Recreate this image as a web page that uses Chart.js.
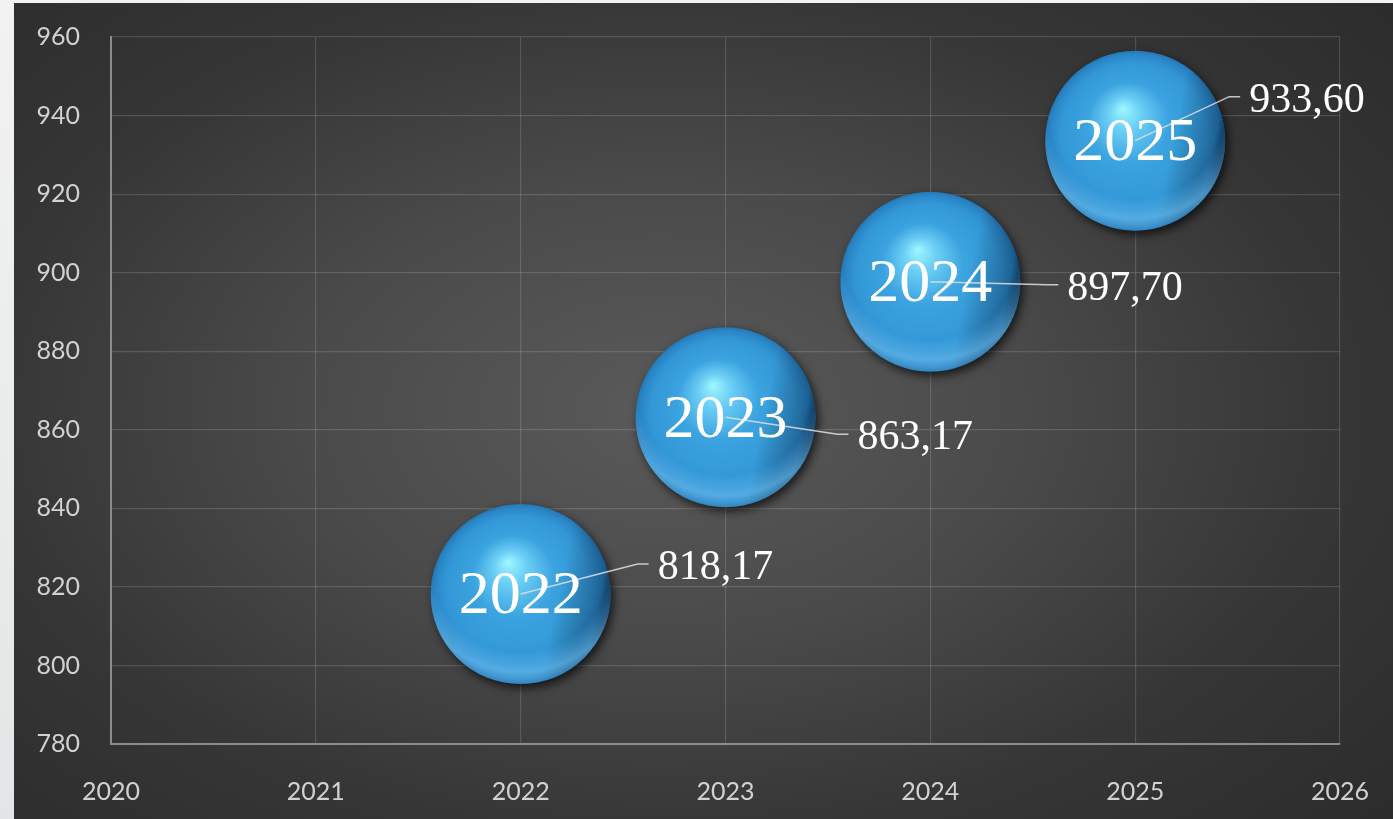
<!DOCTYPE html>
<html lang="en">
	<head>
		<meta charset="UTF-8" />
		<title>Bubbles 2022-2025</title>
		<script src="https://cdn.jsdelivr.net/npm/chart.js@4.4.3/dist/chart.umd.min.js"></script>
		<style>
			html,
			body {
				margin: 0;
				padding: 0;
				width: 1393px;
				height: 819px;
				overflow: hidden;
				background: linear-gradient(180deg, #f2f2f2, #e3e6e6);
			}
			.panel {
				position: absolute;
				left: 14px;
				top: 3px;
				width: 1379px;
				height: 816px;
				background: radial-gradient(
					ellipse 75% 80% at 47% 50%,
					#5a5a5a 0%,
					#4a4a4a 35%,
					#363636 65%,
					#2a2a2a 100%
				);
			}
			canvas {
				display: block;
			}
		</style>
	</head>
	<body>
		<div class="panel">
			<canvas id="bubbleChart" width="1379" height="816"></canvas>
		</div>

		<script>
			// data
			const years = [2022, 2023, 2024, 2025];
			const values = [818.17, 863.17, 897.7, 933.6];
			const valueLabels = ["818,17", "863,17", "897,70", "933,60"];
			const xMin = 2020;
			const xMax = 2026;
			const yMin = 780;
			const yMax = 960;
			const yStep = 20;

			const R = 90; // bubble radius, px
			// where each value label sits, relative to the bubble centre
			const labelOffsets = [
				{ dx: 137, dy: -28 },
				{ dx: 132, dy: 19 },
				{ dx: 137, dy: 5 },
				{ dx: 114, dy: -42 },
			];

			function sphereFill(context) {
				const fallback = "#3399da";
				if (context.type !== "data" || !context.raw) return fallback;
				const chart = context.chart;
				const p = context.raw;
				const cx = chart.scales.x.getPixelForValue(p.x);
				const cy = chart.scales.y.getPixelForValue(p.y);
				if (!isFinite(cx) || !isFinite(cy)) return fallback;
				const g = chart.ctx.createRadialGradient(
					cx - 0.14 * R, cy - 0.36 * R, 0,
					cx, cy, R
				);
				g.addColorStop(0, "#9ff8ff");
				g.addColorStop(0.18, "#6ccff5");
				g.addColorStop(0.45, "#3ba3e0");
				g.addColorStop(0.8, "#3297d6");
				g.addColorStop(0.94, "#2a85c6");
				g.addColorStop(1, "#2378b5");
				return g;
			}

			const sphereShadow = {
				id: "sphereShadow",
				beforeDatasetsDraw(chart) {
					const ctx = chart.ctx;
					ctx.save();
					ctx.shadowColor = "rgba(0,0,0,0.7)";
					ctx.shadowBlur = 10;
					ctx.shadowOffsetX = 3;
					ctx.shadowOffsetY = 4;
				},
				afterDatasetsDraw(chart) {
					chart.ctx.restore();
				},
			};

			const sphereLabels = {
				id: "sphereLabels",
				afterDatasetsDraw(chart) {
					const ctx = chart.ctx;
					const meta = chart.getDatasetMeta(0);
					meta.data.forEach((el, i) => {
						const cx = el.x;
						const cy = el.y;

						// shading on top of the base fill
						ctx.save();
						ctx.beginPath();
						ctx.arc(cx, cy, R, 0, Math.PI * 2);
						ctx.clip();
						const side = ctx.createLinearGradient(cx - R, cy - R * 0.2, cx + R, cy + R * 0.2);
						side.addColorStop(0, "rgba(0,0,0,0)");
						side.addColorStop(0.7, "rgba(0,0,0,0)");
						side.addColorStop(0.92, "rgba(6,30,60,0.35)");
						side.addColorStop(1, "rgba(4,20,40,0.8)");
						ctx.fillStyle = side;
						ctx.fillRect(cx - R, cy - R, R * 2, R * 2);
						const rim = ctx.createRadialGradient(cx, cy - 0.35 * R, 0, cx, cy - 0.35 * R, 1.35 * R);
						rim.addColorStop(0, "rgba(110,200,255,0)");
						rim.addColorStop(0.74, "rgba(110,200,255,0)");
						rim.addColorStop(0.9, "rgba(125,205,250,0.5)");
						rim.addColorStop(1, "rgba(125,205,250,0.15)");
						ctx.fillStyle = rim;
						ctx.fillRect(cx - R, cy - R, R * 2, R * 2);
						ctx.restore();

						// leader line
						const off = labelOffsets[i];
						const tx = cx + off.dx;
						const ty = cy + off.dy;
						ctx.save();
						ctx.strokeStyle = "rgba(225,225,225,0.85)";
						ctx.lineWidth = 1.5;
						ctx.beginPath();
						ctx.moveTo(cx, cy);
						ctx.lineTo(tx - 20, ty - 2);
						ctx.lineTo(tx - 9, ty - 2);
						ctx.stroke();

						// year inside the sphere
						ctx.fillStyle = "#ffffff";
						ctx.textAlign = "center";
						ctx.textBaseline = "middle";
						ctx.font = '62px "Liberation Serif", "Times New Roman", serif';
						ctx.fillText(String(years[i]), cx, cy + 3);

						// value label
						ctx.textAlign = "left";
						ctx.font = '42px "Liberation Serif", "Times New Roman", serif';
						ctx.fillText(valueLabels[i], tx, ty + 2);
						ctx.restore();
					});
				},
			};

			document.addEventListener("DOMContentLoaded", function () {
				const ctx = document.getElementById("bubbleChart").getContext("2d");

				const tickFont = { family: "Lato, 'Open Sans', sans-serif", size: 25 };

				new Chart(ctx, {
					type: "bubble",
					data: {
						datasets: [
							{
								data: years.map((y, i) => ({ x: y, y: values[i] })),
								backgroundColor: sphereFill,
								borderWidth: 0,
								radius: R,
								hoverRadius: 0,
							},
						],
					},
					options: {
						responsive: false,
						animation: false,
						events: [],
						layout: {
							autoPadding: false,
							padding: { left: 0, top: 34, right: 53, bottom: 0 },
						},
						plugins: {
							legend: { display: false },
							tooltip: { enabled: false },
						},
						scales: {
							x: {
								type: "linear",
								min: xMin,
								max: xMax,
								afterFit(s) {
									s.height = 75;
									s.paddingLeft = 0;
									s.paddingRight = 0;
								},
								ticks: {
									stepSize: 1,
									padding: 33,
									color: "#d2d2d2",
									font: tickFont,
									callback: (v) => String(v),
								},
								grid: { color: "rgba(255,255,255,0.14)", lineWidth: 1.2, drawTicks: false },
								border: { color: "#8c8c8c", width: 2 },
							},
							y: {
								type: "linear",
								min: yMin,
								max: yMax,
								afterFit(s) {
									s.width = 97;
									s.paddingTop = 0;
									s.paddingBottom = 0;
								},
								ticks: {
									stepSize: yStep,
									padding: 31,
									color: "#d2d2d2",
									font: tickFont,
								},
								grid: { color: "rgba(255,255,255,0.14)", lineWidth: 1.2, drawTicks: false },
								border: { color: "#8c8c8c", width: 2 },
							},
						},
					},
					plugins: [sphereShadow, sphereLabels],
				});
			});
		</script>
	</body>
</html>
